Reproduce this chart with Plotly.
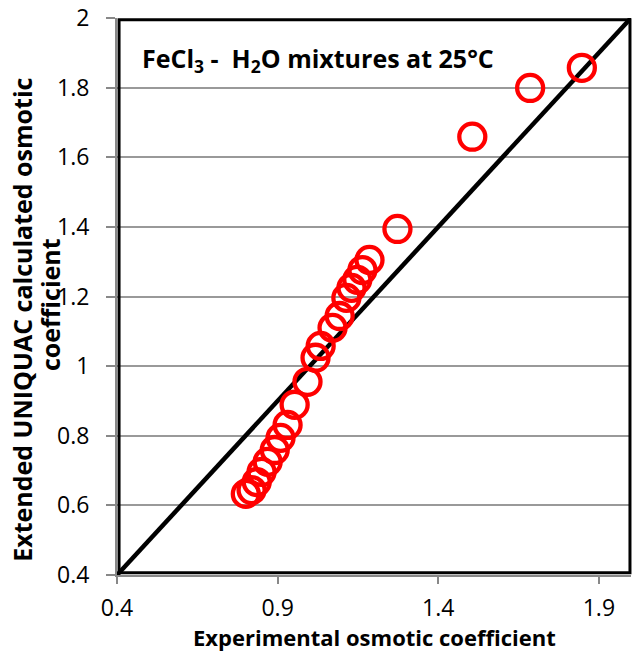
import plotly.graph_objects as go

# Data
exp_phi = [1.847, 1.686, 1.506, 1.273,
           1.186, 1.164, 1.148, 1.130, 1.114, 1.093, 1.071, 1.034, 1.018,
           0.993, 0.953, 0.931, 0.909, 0.891, 0.869, 0.850, 0.835, 0.819, 0.801]
calc_phi = [1.857, 1.799, 1.659, 1.394,
            1.305, 1.276, 1.248, 1.225, 1.196, 1.144, 1.110, 1.058, 1.024,
            0.955, 0.889, 0.831, 0.794, 0.759, 0.725, 0.696, 0.667, 0.644, 0.633]
diag_x = [0.4, 2.0]
diag_y = [0.4, 2.0]
x_ticks = [0.4, 0.9, 1.4, 1.9]
y_ticks = [0.4, 0.6, 0.8, 1.0, 1.2, 1.4, 1.6, 1.8, 2.0]
y_tick_text = ["0.4", "0.6", "0.8", "1", "1.2", "1.4", "1.6", "1.8", "2"]

FONT = "Open Sans"

fig = go.Figure()
fig.add_trace(go.Scatter(x=diag_x, y=diag_y, mode="lines",
                         line=dict(color="black", width=4.5), showlegend=False,
                         cliponaxis=True))
fig.add_trace(go.Scatter(x=exp_phi, y=calc_phi, mode="markers",
                         marker=dict(symbol="circle-open", size=26, color="red",
                                     line=dict(width=4.3, color="red")),
                         showlegend=False, cliponaxis=False))

fig.update_layout(
    width=632, height=654,
    margin=dict(l=117, r=1, t=18, b=79),
    paper_bgcolor="white", plot_bgcolor="white",
    font=dict(family=FONT, color="black", size=22),
    xaxis=dict(range=[0.4, 2.0], tickvals=x_ticks, ticktext=["0.4", "0.9", "1.4", "1.9"],
               showgrid=False, zeroline=False,
               showline=True, linecolor="#888888", linewidth=2, mirror=False,
               ticks="outside", ticklen=7, tickcolor="#888888", tickwidth=2,
               tickfont=dict(family=FONT, size=23), ticklabelstandoff=4),
    yaxis=dict(range=[0.4, 2.0], tickvals=y_ticks, ticktext=y_tick_text,
               showgrid=True, gridcolor="#999999", gridwidth=1.5, zeroline=False,
               showline=True, linecolor="#888888", linewidth=2, mirror=False,
               ticks="outside", ticklen=9, tickcolor="#888888", tickwidth=2,
               tickfont=dict(family=FONT, size=23), ticklabelstandoff=12),
    shapes=[dict(type="rect", xref="paper", yref="paper", x0=0.004, y0=0.004, x1=0.998, y1=0.997,
                 line=dict(color="black", width=3), layer="above")],
    annotations=[
        dict(text="<b>FeCl<sub>3</sub> -  H<sub>2</sub>O mixtures at 25°C</b>",
             xref="paper", yref="paper", x=0.045, y=0.925, xanchor="left", yanchor="middle",
             showarrow=False, font=dict(family=FONT, size=25)),
        dict(text="<b>Experimental osmotic coefficient</b>",
             xref="paper", yref="paper", x=0.5, y=-0.112, xanchor="center", yanchor="middle",
             showarrow=False, font=dict(family=FONT, size=22)),
        dict(text="<b>Extended UNIQUAC calculated osmotic</b>",
             xref="paper", yref="paper", x=-0.185, y=0.458, xanchor="center", yanchor="middle",
             textangle=-90, showarrow=False, font=dict(family=FONT, size=25)),
        dict(text="<b>coefficient</b>",
             xref="paper", yref="paper", x=-0.13, y=0.485, xanchor="center", yanchor="middle",
             textangle=-90, showarrow=False, font=dict(family=FONT, size=25)),
    ],
)

fig.write_html("out.html")
